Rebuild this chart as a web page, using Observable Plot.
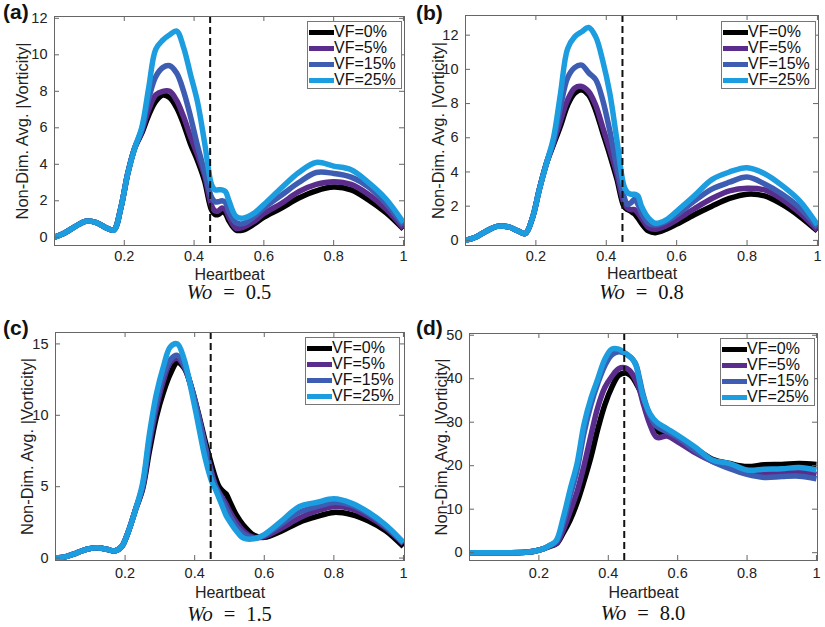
<!DOCTYPE html>
<html><head><meta charset="utf-8">
<script src="https://cdn.jsdelivr.net/npm/d3@7"></script>
<script src="https://cdn.jsdelivr.net/npm/@observablehq/plot@0.6"></script>
<style>
body{margin:0;background:#fff;}
#root{position:relative;width:825px;height:627px;overflow:hidden;background:#fff;font-family:"Liberation Sans",Arial,sans-serif;color:#222;}
.panel{position:absolute;}
.tag{position:absolute;font-weight:bold;font-size:21px;line-height:21px;color:#111;}
.title{position:absolute;font-family:"Liberation Serif","Times New Roman",serif;font-size:20.5px;line-height:16px;text-align:center;white-space:nowrap;color:#111;}
.title .sp{display:inline-block;width:11px;}
.legend{position:absolute;border:1px solid #777;background:#fff;box-sizing:border-box;padding-top:2px;}
.legend .row{display:flex;align-items:center;height:16px;font-size:16px;line-height:16px;color:#111;}
.legend .sw{display:inline-block;width:25px;height:5px;margin-left:1px;}
</style></head><body>
<div id="root"></div>
<script>
// ---------- data ----------
const heartbeat = [0, 0.03, 0.06, 0.09, 0.12, 0.15, 0.17, 0.19, 0.21, 0.23, 0.25, 0.27, 0.29, 0.31, 0.33, 0.35, 0.37, 0.39, 0.41, 0.43, 0.45, 0.46, 0.47, 0.48, 0.49, 0.5, 0.52, 0.54, 0.57, 0.6, 0.65, 0.7, 0.75, 0.8, 0.85, 0.9, 0.95, 1.0];
const seriesNames = ["VF=0%", "VF=5%", "VF=15%", "VF=25%"];
const seriesColors = ["#000000", "#5a2d8c", "#3d5db2", "#1c9de0"];
const xTicks = [0.2, 0.4, 0.6, 0.8, 1];
const xTickLabels = ["0.2", "0.4", "0.6", "0.8", "1"];
const xLabel = "Heartbeat";
const yLabel = "Non-Dim. Avg. |Vorticity|";
const dashedAt = [0.446];
const panelTags = ["(a)", "(b)", "(c)", "(d)"];
const panelWo = ["0.5", "0.8", "1.5", "8.0"];

// panel (a) Wo = 0.5
const a_vf0  = [0,0.25,0.6,0.88,0.8,0.5,0.4,1.6,3.5,4.9, 5.7,6.7,7.45,7.8,7.65,7.1,6.2,5.1,4.2,3.1,1.5,1.25,1.25,1.4,1.3,0.9,0.4,0.4,0.7,1.1,1.6,2.15,2.55,2.75,2.6,2.05,1.35,0.45];
const a_vf5  = [0,0.25,0.6,0.88,0.8,0.5,0.4,1.6,3.5,4.9, 5.8,7.0,7.8,8.0,8.0,7.5,6.6,5.5,4.5,3.4,1.75,1.45,1.45,1.6,1.5,1.1,0.5,0.55,0.85,1.3,1.85,2.5,2.9,3.05,2.9,2.35,1.55,0.5];
const a_vf15 = [0,0.25,0.6,0.88,0.8,0.5,0.4,1.6,3.5,4.9, 5.9,7.6,8.8,9.3,9.4,9.0,8.0,6.6,5.0,3.6,2.2,1.95,1.95,2.0,1.9,1.4,0.8,0.75,1.1,1.6,2.3,3.0,3.55,3.5,3.3,2.75,1.85,0.65];
const a_vf25 = [0,0.25,0.6,0.88,0.8,0.5,0.4,1.6,3.5,4.9, 6.0,8.2,10.3,10.8,11.1,11.3,10.4,8.9,7.4,5.2,2.9,2.6,2.6,2.6,2.5,2.0,1.15,1.05,1.3,1.8,2.7,3.55,4.1,3.9,3.7,3.0,2.1,0.8];

// panel (b) Wo = 0.8
const b_vf0  = [0,0.2,0.55,0.82,0.8,0.55,0.4,1.3,3.0,4.5, 5.6,6.7,7.9,8.6,8.8,8.5,7.6,6.3,5.0,3.6,2.0,1.8,1.7,1.55,1.3,1.0,0.55,0.45,0.65,0.95,1.5,2.0,2.45,2.7,2.6,2.1,1.4,0.55];
const b_vf5  = [0,0.2,0.55,0.82,0.8,0.55,0.4,1.3,3.0,4.5, 5.7,7.0,8.2,8.9,9.0,8.7,7.9,6.6,5.3,3.9,2.2,1.9,1.8,1.8,1.6,1.3,0.75,0.65,0.85,1.2,1.85,2.45,2.9,3.05,2.95,2.4,1.6,0.6];
const b_vf15 = [0,0.2,0.55,0.82,0.8,0.55,0.4,1.3,3.0,4.5, 5.8,7.8,9.5,10.1,10.25,9.8,9.4,8.2,6.4,4.3,2.6,2.1,2.2,2.4,2.1,1.6,1.0,0.9,1.1,1.5,2.3,3.0,3.4,3.7,3.3,2.7,1.9,0.75];
const b_vf25 = [0,0.2,0.55,0.82,0.8,0.55,0.4,1.3,3.0,4.5, 6.0,8.6,11.2,11.9,12.2,12.45,11.9,10.5,8.6,5.9,3.2,2.8,2.7,2.7,2.6,2.0,1.3,1.0,1.2,1.7,2.6,3.55,4.0,4.25,3.9,3.2,2.3,0.9];

// panel (c) Wo = 1.5
const c_vf0  = [0,0.1,0.35,0.62,0.72,0.6,0.5,0.8,1.9,3.4, 4.8,7.5,9.9,11.6,12.9,13.7,13.3,12.0,10.2,8.2,6.4,5.6,5.0,4.7,4.5,4.0,3.0,2.3,1.6,1.45,1.9,2.5,2.9,3.2,3.05,2.6,1.9,0.8];
const c_vf5  = [0,0.1,0.35,0.62,0.72,0.6,0.5,0.8,1.9,3.4, 4.9,8.0,10.5,12.4,13.7,14.0,13.4,12.0,10.1,7.9,5.9,5.1,4.6,4.2,3.8,3.3,2.5,1.9,1.45,1.5,2.1,2.8,3.3,3.6,3.45,2.9,2.1,1.0];
const c_vf15 = [0,0.1,0.35,0.62,0.72,0.6,0.5,0.8,1.9,3.4, 5.0,8.3,10.9,12.8,13.9,14.2,13.5,12.0,10.0,7.8,5.7,5.0,4.5,4.0,3.5,3.0,2.2,1.7,1.4,1.6,2.4,3.2,3.6,3.9,3.7,3.1,2.2,1.05];
const c_vf25 = [0,0.1,0.35,0.62,0.72,0.6,0.5,0.8,1.9,3.4, 5.2,8.7,11.5,13.4,14.8,15.0,13.9,11.8,9.4,7.0,5.3,4.8,4.2,3.6,3.0,2.6,1.9,1.4,1.35,1.65,2.6,3.6,3.9,4.15,3.85,3.2,2.3,1.1];

// panel (d) Wo = 8.0
const d_vf0  = [0,0,0,0,0,0.05,0.15,0.4,0.8,1.4, 2.0,4.5,7.5,11.5,16.5,22.0,28.5,34.0,38.0,40.8,41.3,41.0,40.3,39.0,37.5,35.5,31.0,28.0,27.2,26.3,24.0,21.5,20.5,19.8,20.2,20.3,20.5,20.3];
const d_vf5  = [0,0,0,0,0,0.05,0.15,0.4,0.8,1.5, 2.1,5.2,9.5,14.0,20.0,27.0,33.5,38.0,40.5,42.3,42.5,42.0,41.0,39.5,37.5,34.5,29.5,26.5,26.8,25.5,23.0,21.0,19.8,18.8,18.3,18.4,18.6,18.0];
const d_vf15 = [0,0,0,0,0,0.05,0.15,0.4,0.8,1.6, 2.5,6.8,13.0,19.0,27.5,34.0,39.0,43.0,45.5,46.2,45.8,45.2,44.5,43.2,40.0,36.5,31.5,29.0,27.8,26.5,23.5,21.0,19.3,18.0,17.3,17.5,17.6,17.0];
const d_vf25 = [0,0,0,0,0,0.05,0.15,0.4,0.8,1.6, 2.8,8.0,14.5,20.5,29.5,35.5,40.0,44.5,46.8,46.8,45.8,45.2,44.5,43.0,39.5,36.0,32.0,30.0,28.5,27.0,24.3,21.3,20.5,19.0,19.2,19.3,19.6,19.0];

const yTicksA = [0, 2, 4, 6, 8, 10, 12];
const yTicksB = [0, 2, 4, 6, 8, 10, 12];
const yTicksC = [0, 5, 10, 15];
const yTicksD = [0, 10, 20, 30, 40, 50];

// ---------- layout ----------
const panels = [
  {tag: panelTags[0], wo: panelWo[0], series: [a_vf0, a_vf5, a_vf15, a_vf25], yTicks: yTicksA, yDomain: [-0.45, 12.1],
   left: 0, top: 0, width: 412, height: 290, ml: 54, mr: 8, mt: 16, mb: 45, ylabDx: -32, tickPad: 5, xlabDy: 34,
   tagPos: [3, 1], titleTop: 284, legend: [307, 21, 95, 68]},
  {tag: panelTags[1], wo: panelWo[1], series: [b_vf0, b_vf5, b_vf15, b_vf25], yTicks: yTicksB, yDomain: [-0.3, 13.15],
   left: 412, top: 0, width: 413, height: 290, ml: 53, mr: 7, mt: 15, mb: 45, ylabDx: -27, tickPad: 5, xlabDy: 33,
   tagPos: [416, 2], titleTop: 284, legend: [721, 21, 95, 68]},
  {tag: panelTags[2], wo: panelWo[2], series: [c_vf0, c_vf5, c_vf15, c_vf25], yTicks: yTicksC, yDomain: [-0.17, 15.8],
   left: 0, top: 310, width: 412, height: 300, ml: 55, mr: 8, mt: 22, mb: 50, ylabDx: -28, tickPad: 7, xlabDy: 37,
   tagPos: [3, 317], titleTop: 606, legend: [305, 337, 95, 68]},
  {tag: panelTags[3], wo: panelWo[3], series: [d_vf0, d_vf5, d_vf15, d_vf25], yTicks: yTicksD, yDomain: [-1.8, 50.4],
   left: 412, top: 310, width: 413, height: 300, ml: 57, mr: 8, mt: 23, mb: 50, ylabDx: -28, tickPad: 7, xlabDy: 37,
   tagPos: [416, 317], titleTop: 605, legend: [720, 338, 95, 68]}
];

const root = document.getElementById("root");
const axisColor = "#666";

for (const p of panels) {
  const fw = p.width - p.ml - p.mr;
  const fh = p.height - p.mt - p.mb;
  const rows = [];
  seriesNames.forEach((s, i) => heartbeat.forEach((x, j) => rows.push({x, y: p.series[i][j], s})));
  const chart = Plot.plot({
    width: p.width, height: p.height,
    marginLeft: p.ml, marginRight: p.mr, marginTop: p.mt, marginBottom: p.mb,
    x: {domain: [0, 1.003], axis: null},
    y: {domain: p.yDomain, axis: null},
    color: {domain: seriesNames, range: seriesColors},
    style: {fontFamily: "'Liberation Sans', Arial, sans-serif", background: "transparent", color: "#222", overflow: "visible"},
    marks: [
      Plot.line(rows, {x: "x", y: "y", stroke: "s", z: "s", strokeWidth: 5.5, curve: "catmull-rom", clip: true, strokeLinejoin: "round", strokeLinecap: "butt"}),
      Plot.ruleX(dashedAt, {stroke: "#111", strokeWidth: 2, strokeDasharray: "7,4"}),
      Plot.frame({stroke: axisColor}),
      Plot.ruleX(xTicks, {stroke: axisColor, insetTop: fh - 5}),
      Plot.ruleX(xTicks, {stroke: axisColor, insetBottom: fh - 5}),
      Plot.ruleY(p.yTicks, {stroke: axisColor, insetRight: fw - 5}),
      Plot.ruleY(p.yTicks, {stroke: axisColor, insetLeft: fw - 5}),
      Plot.axisX(xTicks, {tickSize: 0, tickPadding: p.tickPad, fontSize: 14.5, label: null,
        tickFormat: d => xTickLabels[xTicks.indexOf(d)]}),
      Plot.axisY(p.yTicks, {tickSize: 0, tickPadding: 7, fontSize: 14.5, label: null}),
      Plot.text([xLabel], {frameAnchor: "bottom", dy: p.xlabDy, lineAnchor: "bottom", textAnchor: "middle", fontSize: 16, text: d => d}),
      Plot.text([yLabel], {frameAnchor: "left", rotate: -90, dx: p.ylabDx, textAnchor: "middle", lineAnchor: "middle", fontSize: 16.5, text: d => d})
    ]
  });
  const holder = document.createElement("div");
  holder.className = "panel";
  holder.style.left = p.left + "px";
  holder.style.top = p.top + "px";
  holder.appendChild(chart);
  root.appendChild(holder);

  const tag = document.createElement("div");
  tag.className = "tag";
  tag.style.left = p.tagPos[0] + "px";
  tag.style.top = p.tagPos[1] + "px";
  tag.textContent = p.tag;
  root.appendChild(tag);

  const title = document.createElement("div");
  title.className = "title";
  title.style.left = (p.left + p.ml) + "px";
  title.style.width = fw + "px";
  title.style.top = p.titleTop + "px";
  title.innerHTML = "<i>W</i><i>o</i><span class='sp'></span>=<span class='sp'></span>" + p.wo;
  root.appendChild(title);

  const lg = document.createElement("div");
  lg.className = "legend";
  lg.style.left = p.legend[0] + "px";
  lg.style.top = p.legend[1] + "px";
  lg.style.width = p.legend[2] + "px";
  lg.style.height = p.legend[3] + "px";
  seriesNames.forEach((s, i) => {
    const row = document.createElement("div");
    row.className = "row";
    row.innerHTML = `<span class="sw" style="background:${seriesColors[i]}"></span><span>${s}</span>`;
    lg.appendChild(row);
  });
  root.appendChild(lg);
}
</script>
</body></html>
